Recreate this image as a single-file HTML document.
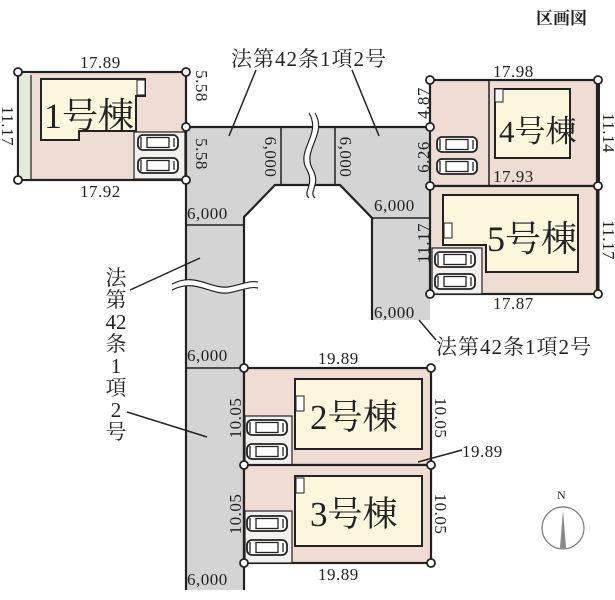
<!DOCTYPE html>
<html><head><meta charset="utf-8"><style>
html,body{margin:0;padding:0;background:#fff;}
svg{display:block;}
text{font-family:"Liberation Serif","Noto Serif CJK SC",serif;fill:#222;}
</style></head><body>
<svg width="615" height="600" viewBox="0 0 615 600" xmlns="http://www.w3.org/2000/svg">
<defs>
<g id="car">
<rect x="0" y="0" width="40" height="15" rx="5" fill="#fff" stroke="#222" stroke-width="1.8"/>
<rect x="9" y="2.5" width="22" height="10" fill="none" stroke="#222" stroke-width="1.3"/>
<line x1="3" y1="2" x2="3" y2="13" stroke="#222" stroke-width="1.3"/>
<line x1="36" y1="3" x2="36" y2="12" stroke="#222" stroke-width="1.3"/>
</g>
</defs>
<text x="536" y="24" font-size="17" font-family="'Noto Sans CJK JP',sans-serif" font-weight="bold">区画図</text>

<polygon points="186,127 430,127 430,320 372,320 372,218 340,185 275,185 244,217 244,590 186,590" fill="#d4d4d4"/>
<g stroke="#222" stroke-width="2.2" fill="none">
<polyline points="186,127 430,127"/>
<polyline points="186,180 186,590"/>
<polyline points="244,590 244,217 275,185 340,185 372,218 372,320"/>
<line x1="186" y1="225" x2="244" y2="225" stroke-width="1.5"/>
<line x1="186" y1="368" x2="244" y2="368" stroke-width="1.5"/>
<line x1="372" y1="218" x2="430" y2="218" stroke-width="1.5"/>
<line x1="281" y1="127" x2="281" y2="185" stroke-width="1.5"/>
<line x1="335" y1="127" x2="335" y2="185" stroke-width="1.5"/>
</g>
<path d="M312,113 C325,135 298,150 310,170 C318,185 305,192 312,198" stroke="#fff" stroke-width="6" fill="none"/>
<path d="M309,113 C322,135 295,150 307,170 C315,185 302,192 309,198 M315,113 C328,135 301,150 313,170 C321,185 308,192 315,198" stroke="#222" stroke-width="1.2" fill="none"/>
<path d="M172,287 C195,275 210,292 228,290 C240,288 250,283 258,285" stroke="#fff" stroke-width="6" fill="none"/>
<path d="M172,284 C195,272 210,289 228,287 C240,285 250,280 258,282 M172,290 C195,278 210,295 228,293 C240,291 250,286 258,288" stroke="#222" stroke-width="1.2" fill="none"/>

<rect x="18" y="72" width="168" height="108" fill="#efdcd2" stroke="#222" stroke-width="2.2"/>
<rect x="19" y="73" width="11" height="106" fill="#e4ead8"/>
<line x1="31" y1="75" x2="31" y2="180" stroke="#222" stroke-width="1.2"/>
<polygon points="41,79 145,79 145,96 136,96 136,131 79,131 79,140 41,140" fill="#fcf6dc" stroke="#222" stroke-width="2"/>
<rect x="137" y="80" width="8" height="15" fill="#fff" stroke="#222" stroke-width="1"/>
<rect x="134" y="132" width="51" height="47" fill="#f3f0ee" stroke="#222" stroke-width="1.2"/>
<use href="#car" x="138" y="135"/><use href="#car" x="138" y="158"/>
<text x="44" y="128" font-size="36">1号棟</text>

<rect x="430" y="80" width="167" height="106" fill="#efdcd2" stroke="#222" stroke-width="2.2"/>
<line x1="489" y1="80" x2="489" y2="186" stroke="#222" stroke-width="1.5"/>
<rect x="495" y="89" width="75" height="69" fill="#fcf6dc" stroke="#222" stroke-width="2"/>
<rect x="495" y="89" width="8" height="13" fill="#fff" stroke="#222" stroke-width="1"/>
<use href="#car" x="437" y="137"/><use href="#car" x="437" y="159"/>
<text x="499" y="142" font-size="31">4号棟</text>
<rect x="430" y="186" width="167" height="108" fill="#efdcd2" stroke="#222" stroke-width="2.2"/>
<polygon points="443,195 578,195 578,272 486,272 486,245 443,245" fill="#fcf6dc" stroke="#222" stroke-width="2"/>
<rect x="444" y="223" width="8" height="15" fill="#fff" stroke="#222" stroke-width="1"/>
<rect x="432" y="248" width="50" height="46" fill="#f3f0ee" stroke="#222" stroke-width="1.2"/>
<use href="#car" x="435" y="252"/><use href="#car" x="435" y="274"/>
<text x="487" y="251" font-size="36">5号棟</text>
<line x1="598" y1="80" x2="598" y2="186" stroke="#222" stroke-width="4"/>
<line x1="598" y1="186" x2="598" y2="294" stroke="#222" stroke-width="3"/>

<rect x="244" y="368" width="187" height="97" fill="#efdcd2" stroke="#222" stroke-width="2.2"/>
<rect x="295" y="379" width="127" height="70" fill="#fcf6dc" stroke="#222" stroke-width="2"/>
<rect x="296" y="396" width="8" height="15" fill="#fff" stroke="#222" stroke-width="1"/>
<rect x="245" y="416" width="47" height="49" fill="#f3f0ee" stroke="#222" stroke-width="1.2"/>
<use href="#car" x="247" y="420"/><use href="#car" x="247" y="444"/>
<text x="310" y="429" font-size="35">2号棟</text>
<rect x="244" y="465" width="187" height="98" fill="#efdcd2" stroke="#222" stroke-width="2.2"/>
<rect x="295" y="476" width="127" height="70" fill="#fcf6dc" stroke="#222" stroke-width="2"/>
<rect x="296" y="478" width="8" height="15" fill="#fff" stroke="#222" stroke-width="1"/>
<rect x="245" y="511" width="47" height="52" fill="#f3f0ee" stroke="#222" stroke-width="1.2"/>
<use href="#car" x="247" y="516"/><use href="#car" x="247" y="540"/>
<text x="310" y="526" font-size="35">3号棟</text>

<g fill="#fff" stroke="#222" stroke-width="1.8">
<circle cx="18" cy="72" r="4"/><circle cx="186" cy="72" r="4"/><circle cx="186" cy="127" r="4"/><circle cx="18" cy="180" r="4"/><circle cx="186" cy="180" r="4"/>
<circle cx="430" cy="80" r="4"/><circle cx="598" cy="80" r="4"/><circle cx="430" cy="127" r="4"/><circle cx="430" cy="186" r="4"/><circle cx="598" cy="186" r="4"/><circle cx="430" cy="294" r="4"/><circle cx="598" cy="294" r="4"/>
<circle cx="244" cy="368" r="4"/><circle cx="431" cy="368" r="4"/><circle cx="244" cy="465" r="4"/><circle cx="431" cy="465" r="4"/><circle cx="244" cy="563" r="4"/><circle cx="431" cy="563" r="4"/>
</g>

<g font-size="17" letter-spacing="0.5">
<text x="80" y="68">17.89</text>
<text x="80" y="197">17.92</text>
<text x="493" y="77">17.98</text>
<text x="493" y="182">17.93</text>
<text x="493" y="309">17.87</text>
<text x="318" y="364">19.89</text>
<text x="462" y="457">19.89</text>
<text x="318" y="580">19.89</text>
<text x="187" y="219">6,000</text>
<text x="187" y="361">6,000</text>
<text x="187" y="585">6,000</text>
<text x="374" y="211">6,000</text>
<text x="374" y="318">6,000</text>
</g>
<g font-size="17" text-anchor="middle" letter-spacing="0.5">
<text transform="translate(2,126) rotate(90)">11.17</text>
<text transform="translate(196,86) rotate(90)">5.58</text>
<text transform="translate(196,154) rotate(90)">5.58</text>
<text transform="translate(265,157) rotate(90)">6,000</text>
<text transform="translate(340,157) rotate(90)">6,000</text>
<text transform="translate(429,103) rotate(-90)">4.87</text>
<text transform="translate(429,157) rotate(-90)">6.26</text>
<text transform="translate(429,243) rotate(-90)">11.17</text>
<text transform="translate(603,133) rotate(90)">11.14</text>
<text transform="translate(603,240) rotate(90)">11.17</text>
<text transform="translate(241,418) rotate(-90)">10.05</text>
<text transform="translate(241,514) rotate(-90)">10.05</text>
<text transform="translate(435,418) rotate(90)">10.05</text>
<text transform="translate(435,514) rotate(90)">10.05</text>
</g>

<g stroke="#222" stroke-width="1.5" fill="none">
<line x1="256" y1="70" x2="229" y2="136"/>
<line x1="352" y1="70" x2="379" y2="136"/>
<line x1="419" y1="320" x2="436" y2="340"/>
<line x1="130" y1="290" x2="200" y2="258"/>
<line x1="127" y1="412" x2="207" y2="437"/>
<line x1="418" y1="462" x2="462" y2="450"/>
</g>
<g font-size="21" letter-spacing="1">
<text x="231" y="66">法第42条1項2号</text>
<text x="436" y="354">法第42条1項2号</text>
</g>
<g font-size="21" text-anchor="middle">
<text x="116" y="285">法</text>
<text x="116" y="307">第</text>
<text x="116" y="329">42</text>
<text x="116" y="351">条</text>
<text x="116" y="373">1</text>
<text x="116" y="395">項</text>
<text x="116" y="417">2</text>
<text x="116" y="439">号</text>
</g>

<circle cx="563" cy="528" r="21" fill="none" stroke="#777" stroke-width="1.2"/>
<polygon points="563,510 566,548 560,548" fill="#888"/>
<text x="557" y="499" font-size="12" font-family="'Liberation Sans',sans-serif" fill="#555">N</text>
</svg>
</body></html>
